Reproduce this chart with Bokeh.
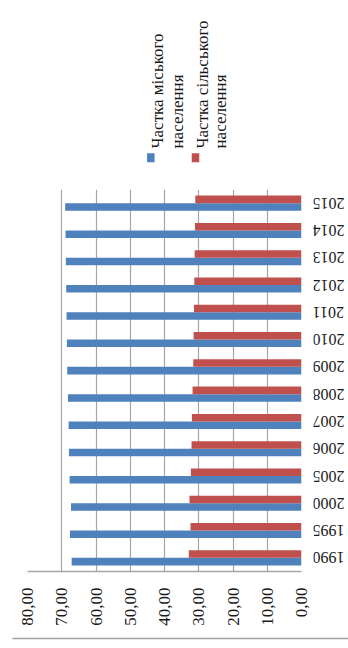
from math import pi
from bokeh.plotting import figure
from bokeh.models import FactorRange, Range1d, FixedTicker, ColumnDataSource
from bokeh.transform import dodge
from bokeh.layouts import column, row
from bokeh.embed import file_html
from bokeh.resources import INLINE
from bokeh.core.properties import value

# ---- data ----
years = ["1990", "1995", "2000", "2005", "2006", "2007", "2008",
         "2009", "2010", "2011", "2012", "2013", "2014", "2015"]
urban = [67.1, 67.6, 67.3, 67.7, 67.9, 68.0, 68.2,
         68.4, 68.5, 68.6, 68.7, 68.8, 68.9, 69.0]
rural = [32.9, 32.4, 32.7, 32.3, 32.1, 32.0, 31.8,
         31.6, 31.5, 31.4, 31.3, 31.2, 31.1, 31.0]
series_names = ["Частка міського населення", "Частка сільського населення"]
legend_line1 = ["Частка міського", "Частка сільського"]
legend_line2 = ["населення", "населення"]
colors = ["#4F81BD", "#C0504D"]
value_ticks = [0, 10, 20, 30, 40, 50, 60, 70, 80]
value_tick_labels = ["0,00", "10,00", "20,00", "30,00", "40,00",
                     "50,00", "60,00", "70,00", "80,00"]

FONT = "Liberation Serif"
TXT = "#1a1a1a"
GRID = "#a6a6a6"

# ---- legend strip (rotated texts) ----
LH = 189
lg = figure(width=348, height=LH, x_range=Range1d(0, 348), y_range=Range1d(0, LH),
            output_backend="svg", toolbar_location=None, min_border=0,
            outline_line_color=None, background_fill_color="white",
            border_fill_color="white")
lg.axis.visible = False
lg.grid.visible = False
leg_src = ColumnDataSource(dict(
    mx=[150.3, 195.0], my=[31.8, 31.8],
    x1=[157.0, 202.0], x2=[176.5, 220.0], ty=[41.0, 41.0],
    t1=legend_line1, t2=legend_line2, c=colors, name=series_names))
lg.rect(x="mx", y="my", width=7.5, height=9, fill_color="c", line_color=None, source=leg_src)
for col in ["1", "2"]:
    lg.text(x="x" + col, y="ty", text="t" + col, angle=pi / 2, source=leg_src,
            text_font=value(FONT), text_font_size="17px", text_color=TXT,
            text_align="left", text_baseline="alphabetic")

# ---- main chart ----
src = ColumnDataSource(dict(years=years, urban=urban, rural=rural))
yr = FactorRange(factors=years)
p = figure(frame_width=274, frame_height=382,
           x_range=Range1d(80, 0), y_range=yr,
           y_axis_location=None,
           output_backend="svg", toolbar_location=None,
           min_border_left=27, min_border_right=12, min_border_top=0, min_border_bottom=61,
           outline_line_color=None, background_fill_color="white", border_fill_color="white")

p.hbar(y=dodge("years", -0.138, range=yr), right="urban", left=0, height=0.276,
       fill_color=colors[0], line_color=None, source=src)
p.hbar(y=dodge("years", 0.138, range=yr), right="rural", left=0, height=0.276,
       fill_color=colors[1], line_color=None, source=src)

p.xaxis.ticker = FixedTicker(ticks=value_ticks)
p.xaxis.major_label_overrides = {t: l for t, l in zip(value_ticks, value_tick_labels)}
p.xaxis.major_label_orientation = pi / 2
p.xaxis.major_tick_out = 0
p.xaxis.major_tick_in = 0
p.xaxis.minor_tick_out = 0
p.xaxis.minor_tick_in = 0
p.xaxis.major_label_standoff = 16
p.xaxis.axis_line_color = GRID
p.xaxis.axis_line_width = 1.5
p.xaxis.major_label_text_font = FONT
p.xaxis.major_label_text_color = TXT
p.xaxis.major_label_text_font_size = "17px"

p.xgrid.ticker = FixedTicker(ticks=value_ticks)
p.xgrid.grid_line_color = GRID
p.xgrid.grid_line_width = 1.2
p.ygrid.grid_line_color = None

# ---- category labels strip (upside-down years), shares the y range ----
ys = figure(frame_width=36, frame_height=382, x_range=Range1d(0, 36), y_range=yr,
            x_axis_location=None, y_axis_location=None,
            output_backend="svg", toolbar_location=None,
            min_border_left=0, min_border_right=0, min_border_top=0, min_border_bottom=61,
            outline_line_color=None, background_fill_color="white", border_fill_color="white")
ys.grid.visible = False
ys.text(x=-1, y="years", text="years", angle=pi, source=src,
        text_font=value(FONT), text_font_size="16px", text_color=TXT,
        text_align="right", text_baseline="middle")

# ---- bottom rule ----
ln = figure(width=348, height=16, x_range=Range1d(0, 348), y_range=Range1d(0, 16),
            output_backend="svg", toolbar_location=None, min_border=0,
            outline_line_color=None, border_fill_color="white")
ln.axis.visible = False
ln.grid.visible = False
ln.segment(x0=[12], y0=[10], x1=[348], y1=[10], line_color="#a0a0a0", line_width=1.5)

layout = column(lg, row(p, ys, spacing=0), ln, spacing=0)
open("out.html", "w").write(file_html(layout, INLINE))
